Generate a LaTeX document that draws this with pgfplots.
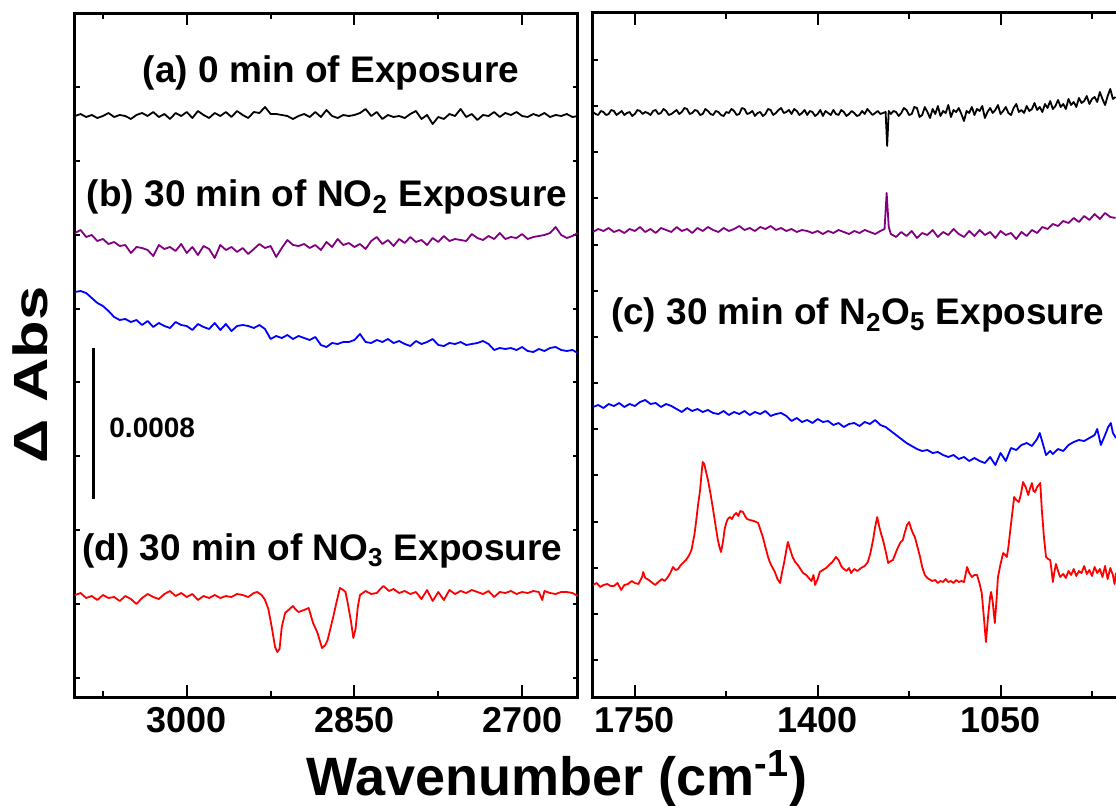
\documentclass[border=0pt]{standalone}
\usepackage{fontspec}
\setmainfont{Liberation Sans}
\usepackage{pgfplots}
\pgfplotsset{compat=1.18}
\definecolor{cpurple}{RGB}{128,0,128}
\definecolor{cblue}{RGB}{0,0,255}
\definecolor{cred}{RGB}{255,0,0}

\pgfplotsset{
  panel/.style={
    scale only axis, height=342pt, ymin=0, ymax=684,
    x dir=reverse,
    axis line style={line width=1.5pt},
    tick style={black, line width=1pt},
    major tick length=6pt, minor tick length=3pt,
    tick align=inside,
    ytick=\empty,
    extra y tick labels={},
    extra y tick style={major tick length=2.6pt},
    xticklabel style={font=\bfseries\fontsize{18}{18}\selectfont, yshift=-1.5pt},
  },
  spec/.style={line width=0.9pt, line join=round},
}

\begin{document}
\begin{tikzpicture}
% ---------- left panel: C-H stretch region ----------
\begin{axis}[panel, at={(0pt,0pt)}, anchor=south west, width=251.5pt,
  xmin=2650, xmax=3100,
  xtick={3000,2850,2700}, xticklabels={3000,2850,2700},
  minor xtick={3075,2925,2775},
  extra y ticks={19,92.9,166.8,240.7,314.6,388.5,462.4,536.3,610.2},
]
% (a) 0 min
\addplot[spec, black] coordinates {
(3100,581)(3095,583)(3090,580)(3085,582)(3080,579)(3075,581)(3070,584)(3065,580)
(3060,582)(3055,581)(3050,578)(3045,582)(3040,584)(3035,581)(3030,585)(3025,580)
(3020,583)(3015,578)(3010,584)(3005,581)(3000,585)(2995,579)(2990,586)(2985,582)
(2980,579)(2975,584)(2970,581)(2965,585)(2960,580)(2955,586)(2950,582)(2945,579)
(2940,585)(2935,584)(2930,590)(2925,583)(2920,583)(2915,582)(2910,581)(2905,578)
(2900,581)(2895,583)(2890,580)(2885,585)(2880,580)(2875,587)(2870,581)(2865,579)
(2860,582)(2855,581)(2850,582)(2845,584)(2840,588)(2835,581)(2830,585)(2825,578)
(2820,582)(2815,580)(2810,581)(2805,579)(2800,583)(2795,586)(2790,578)(2785,582)
(2780,573)(2775,580)(2770,578)(2765,583)(2760,581)(2755,588)(2750,580)(2745,583)
(2740,577)(2735,582)(2730,581)(2725,585)(2720,580)(2715,584)(2710,582)(2705,585)
(2700,581)(2695,580)(2690,583)(2685,581)(2680,584)(2675,580)(2670,582)(2665,581)
(2660,583)(2655,580)(2650,581)
};
% (b) NO2
\addplot[spec, cpurple] coordinates {
(3100,464)(3095,467)(3090,460)(3085,462)(3080,456)(3075,458)(3070,453)(3065,455)
(3060,451)(3055,452)(3050,444)(3045,450)(3040,449)(3035,447)(3030,441)(3025,452)
(3020,448)(3015,450)(3010,446)(3005,453)(3000,444)(2995,450)(2990,442)(2985,451)
(2980,448)(2975,439)(2970,452)(2965,447)(2960,450)(2955,445)(2950,449)(2945,443)
(2940,448)(2935,453)(2930,449)(2925,451)(2920,440)(2915,449)(2910,457)(2905,452)
(2900,451)(2895,453)(2890,449)(2885,452)(2880,447)(2875,455)(2870,450)(2865,458)
(2860,452)(2855,454)(2850,450)(2845,453)(2840,448)(2835,456)(2830,460)(2825,453)
(2820,457)(2815,451)(2810,458)(2805,454)(2800,460)(2795,455)(2790,457)(2785,452)
(2780,459)(2775,455)(2770,461)(2765,456)(2760,458)(2755,457)(2750,456)(2745,463)
(2740,459)(2735,457)(2730,461)(2725,458)(2720,464)(2715,458)(2710,460)(2705,459)
(2700,463)(2695,458)(2690,460)(2685,461)(2680,462)(2675,464)(2670,470)(2665,462)
(2660,459)(2655,461)(2650,464)
};
% (c) N2O5
\addplot[spec, cblue] coordinates {
(3100,405)(3095,406)(3090,404)(3085,399)(3080,394)(3075,391)(3070,386)(3065,380)
(3060,377)(3055,378)(3050,375)(3045,377)(3040,372)(3035,376)(3030,370)(3025,374)
(3020,371)(3015,369)(3010,375)(3005,372)(3000,371)(2995,367)(2990,373)(2985,370)
(2980,368)(2975,374)(2970,367)(2965,373)(2960,366)(2955,371)(2950,372)(2945,371)
(2940,369)(2935,372)(2930,368)(2925,358)(2920,361)(2915,359)(2910,362)(2905,358)
(2900,361)(2895,359)(2890,357)(2885,360)(2880,352)(2875,350)(2870,354)(2865,353)
(2860,355)(2855,355)(2850,357)(2845,363)(2840,355)(2835,354)(2830,357)(2825,355)
(2820,358)(2815,354)(2810,356)(2805,353)(2800,351)(2795,356)(2790,353)(2785,355)
(2780,358)(2775,352)(2770,351)(2765,354)(2760,353)(2755,355)(2750,352)(2745,353)
(2740,354)(2735,356)(2730,353)(2725,347)(2720,349)(2715,348)(2710,349)(2705,347)
(2700,350)(2695,346)(2690,345)(2685,348)(2680,346)(2675,349)(2670,350)(2665,347)
(2660,346)(2655,347)(2650,344)
};
% (d) NO3
\addplot[spec, cred] coordinates {
(3100,102)(3095,104)(3090,99)(3085,101)(3080,97)(3075,102)(3070,99)(3065,100)
(3060,96)(3055,101)(3050,98)(3045,93)(3040,99)(3035,103)(3030,100)(3025,98)
(3020,103)(3015,106)(3010,101)(3005,104)(3000,100)(2995,103)(2990,97)(2985,101)
(2980,99)(2975,102)(2970,99)(2965,101)(2960,100)(2955,103)(2950,102)(2945,100)
(2940,104)(2937,105)(2933,102)(2930,97)(2927,88)(2924,70)(2921,50)(2919,45)
(2917,48)(2915,70)(2912,84)(2908,88)(2905,91)(2903,88)(2900,85)(2895,87)
(2891,89)(2887,74)(2883,64)(2879,49)(2876,52)(2874,57)(2869,80)(2866,95)
(2863,109)(2860,107)(2858,105)(2856,94)(2853,75)(2851,59)(2849,68)(2847,90)
(2845,102)(2840,106)(2835,103)(2830,104)(2826,109)(2824,111)(2819,106)(2815,108)
(2810,104)(2805,106)(2800,103)(2795,105)(2790,98)(2785,107)(2780,96)(2775,105)
(2770,97)(2765,107)(2760,103)(2755,106)(2750,104)(2745,107)(2740,105)(2735,103)
(2730,106)(2725,100)(2720,105)(2715,104)(2710,106)(2705,103)(2700,105)(2695,104)
(2690,106)(2685,105)(2682,97)(2680,106)(2675,104)(2670,103)(2665,105)(2660,105)
(2655,104)(2650,101)
};
% scale bar
\draw[line width=1.5pt] (axis cs:3083,198) -- (axis cs:3083,349);
\end{axis}

% ---------- right panel: fingerprint region ----------
\begin{axis}[panel, at={(259pt,0pt)}, anchor=south west, width=269.1pt,
  xmin=800, xmax=1830,
  xtick={1750,1400,1050}, xticklabels={1750,1400,1050},
  minor xtick={1575,1225,875},
  extra y ticks={37,83.15,129.3,175.45,221.6,267.75,313.9,360.05,406.2,452.35,498.5,544.65,590.8,636.95},
]
% (a) 0 min
\addplot[spec, black] coordinates {
(1830,585)(1825,583)(1820,582)(1815,586)(1810,585)(1805,582)(1800,583)(1795,587)(1790,586)(1785,582)(1780,584)
(1775,586)(1770,582)(1765,584)(1760,585)(1755,581)(1750,583)(1745,587)(1740,586)(1735,583)(1730,585)
(1725,584)(1720,582)(1715,586)(1710,587)(1705,583)(1700,584)(1695,588)(1690,586)(1685,582)(1680,583)
(1675,585)(1670,587)(1665,583)(1660,585)(1655,589)(1650,588)(1645,583)(1640,584)(1635,587)(1630,586)
(1625,582)(1620,583)(1615,588)(1610,586)(1605,583)(1600,582)(1595,586)(1590,585)(1585,582)(1580,581)
(1575,585)(1570,584)(1565,588)(1560,586)(1555,582)(1550,583)(1545,589)(1540,588)(1535,583)(1530,584)
(1525,586)(1520,581)(1515,584)(1510,585)(1505,581)(1500,583)(1495,588)(1490,587)(1485,582)(1480,584)
(1475,587)(1470,589)(1465,584)(1460,585)(1455,587)(1450,583)(1445,588)(1440,586)(1435,582)(1430,584)
(1425,587)(1420,582)(1415,586)(1410,585)(1405,581)(1400,583)(1395,587)(1390,581)(1385,586)(1380,584)
(1375,582)(1370,587)(1365,583)(1360,582)(1355,587)(1350,585)(1345,581)(1340,583)(1335,586)(1330,584)
(1325,581)(1320,582)(1315,586)(1310,583)(1305,588)(1300,585)(1295,582)(1290,584)(1285,586)(1280,583)
(1275,584)(1270,585)(1267,551)(1264,586)(1260,583)(1255,586)(1250,585)(1245,581)(1240,584)(1235,589)
(1230,587)(1225,582)(1220,583)(1215,590)(1210,589)(1205,580)
(1200,582)(1195,590)(1190,585)(1185,579)(1180,588)(1175,583)(1170,591)(1165,581)(1160,586)(1155,584)
(1150,592)(1145,580)(1140,587)(1135,585)(1130,589)(1125,583)(1120,576)(1115,586)(1110,584)(1105,590)
(1100,582)(1095,588)(1090,586)(1085,591)(1080,579)(1075,585)(1070,589)(1065,584)(1060,587)(1055,592)
(1050,583)(1045,586)(1040,590)(1035,584)(1030,582)(1025,589)(1020,593)(1015,585)(1010,587)(1005,584)
(1000,591)(995,586)(990,588)(985,594)(980,587)(975,590)(970,585)(965,593)(960,589)(955,596)
(950,588)(945,591)(940,597)(935,590)(930,593)(925,588)(920,598)(915,592)(910,595)(905,590)
(900,599)(895,594)(890,596)(885,601)(880,593)(875,598)(870,600)(865,595)(860,605)(855,598)
(850,592)(845,601)(840,608)(835,598)(830,600)
};
% (b) NO2
\addplot[spec, cpurple] coordinates {
(1830,465)(1820,468)(1810,466)(1800,469)(1790,465)(1780,467)(1770,464)(1760,468)
(1750,466)(1740,470)(1730,465)(1720,468)(1710,464)(1700,469)(1690,467)(1680,465)
(1670,470)(1660,466)(1650,468)(1640,464)(1630,469)(1620,466)(1610,470)(1600,467)
(1590,465)(1580,469)(1570,466)(1560,468)(1550,471)(1540,467)(1530,469)(1520,466)
(1510,470)(1500,468)(1490,471)(1480,467)(1470,469)(1460,466)(1450,468)(1440,465)
(1430,467)(1420,466)(1410,464)(1400,466)(1390,463)(1380,466)(1370,464)(1360,467)
(1350,465)(1340,463)(1330,466)(1320,464)(1310,467)(1300,465)(1290,463)(1280,466)
(1272,468)(1268,504)(1264,470)(1260,463)(1250,460)(1240,465)(1230,461)(1220,466)
(1210,459)(1200,464)(1190,462)(1180,467)(1170,460)(1160,465)(1150,462)(1140,468)
(1130,463)(1120,460)(1110,466)(1100,461)(1090,467)(1080,462)(1070,465)(1060,459)
(1050,466)(1040,462)(1030,464)(1020,458)(1010,465)(1000,461)(990,467)(980,464)
(970,470)(960,468)(950,473)(940,471)(930,476)(920,474)(910,479)(900,475)
(890,481)(880,477)(870,483)(860,478)(850,484)(840,480)(830,479)
};
% (c) N2O5
\addplot[spec, cblue] coordinates {
(1830,290)(1820,292)(1810,289)(1800,293)(1790,291)(1780,294)(1770,290)(1760,293)
(1750,291)(1740,295)(1730,297)(1720,293)(1710,294)(1700,290)(1690,293)(1680,291)
(1670,288)(1660,285)(1650,289)(1640,286)(1630,288)(1620,285)(1610,287)(1600,284)
(1590,283)(1580,286)(1570,282)(1560,285)(1550,283)(1540,286)(1530,282)(1520,285)
(1510,283)(1500,286)(1490,281)(1480,283)(1470,284)(1460,281)(1450,276)(1440,279)
(1430,275)(1420,277)(1410,274)(1400,278)(1390,275)(1380,276)(1370,272)(1360,274)
(1350,270)(1340,273)(1330,274)(1320,271)(1310,275)(1300,273)(1290,277)(1280,272)
(1270,270)(1260,266)(1250,262)(1240,258)(1230,254)(1220,251)(1210,248)(1200,246)
(1190,247)(1180,244)(1170,245)(1160,242)(1150,240)(1140,242)(1130,238)(1120,240)
(1110,236)(1100,239)(1090,236)(1080,234)(1070,240)(1060,232)(1050,244)(1040,236)
(1030,249)(1020,247)(1010,252)(1000,254)(990,251)(980,258)(975,264)(970,255)
(963,242)(955,246)(950,243)(940,248)(930,246)(920,252)(910,255)(900,257)
(890,256)(880,259)(870,262)(865,268)(858,252)(850,262)(844,270)(839,274)
(835,264)(829,259)
};
% (d) NO3
\addplot[spec, cred] coordinates {
(1830,112)(1823,114)(1816,110)(1810,112)(1803,113)(1796,111)(1790,111)(1783,114)
(1776,107)(1770,112)(1763,113)(1756,116)(1750,114)(1743,113)(1736,120)(1734,125)
(1730,119)(1723,117)(1716,114)(1711,112)(1705,115)(1698,118)(1693,116)(1688,119)
(1682,124)(1677,130)(1672,127)(1667,128)(1662,132)(1658,134)(1652,137)(1648,140)
(1644,144)(1641,148)(1639,154)(1636,162)(1633,174)(1629,192)(1625,207)(1622,225)
(1620,235)(1617,233)(1614,226)(1610,217)(1605,203)(1600,187)(1595,170)(1591,157)
(1588,150)(1585,145)(1581,156)(1578,168)(1575,174)(1572,178)(1568,180)(1564,178)
(1560,182)(1556,184)(1552,181)(1548,186)(1543,185)(1538,180)(1535,178)(1530,177)
(1522,176)(1514,174)(1510,168)(1505,160)(1500,150)(1495,140)(1491,134)(1487,130)
(1482,125)(1477,118)(1472,114)(1468,125)(1464,135)(1460,147)(1457,155)(1453,148)
(1448,140)(1443,135)(1438,132)(1433,128)(1428,124)(1422,122)(1417,119)(1412,116)
(1408,122)(1405,112)(1400,118)(1396,125)(1390,127)(1384,129)(1378,132)(1372,135)
(1365,140)(1360,137)(1355,131)(1352,129)(1345,126)(1340,129)(1336,124)(1330,128)
(1324,126)(1317,129)(1310,131)(1304,135)(1299,144)(1294,157)(1290,170)(1286,180)
(1282,170)(1278,162)(1275,157)(1270,146)(1265,134)(1260,136)(1256,137)(1250,145)
(1246,150)(1241,155)(1237,157)(1233,165)(1229,172)(1225,175)(1221,168)(1217,163)
(1214,160)(1209,150)(1204,140)(1200,130)(1195,122)(1190,119)(1181,116)(1175,117)
(1170,114)(1165,116)(1160,115)(1155,118)(1150,115)(1145,116)(1140,114)(1135,117)
(1130,115)(1125,116)(1120,115)(1114,130)(1110,124)(1105,120)(1100,122)(1095,122)
(1090,113)(1086,104)(1082,80)(1078,55)(1074,80)(1070,100)(1068,105)(1065,95)
(1061,74)(1058,95)(1055,120)(1050,133)(1045,144)(1041,142)(1038,140)(1035,150)
(1032,164)(1028,182)(1024,200)(1020,197)(1015,195)(1011,203)(1007,215)(1002,210)
(997,202)(994,208)(990,214)(987,206)(984,205)(980,210)(974,214)(971,187)
(967,160)(963,140)(959,138)(955,137)(952,125)(950,115)(947,125)(944,133)
(940,126)(936,120)(930,123)(925,119)(920,126)(915,122)(910,128)(905,121)
(900,126)(895,124)(890,131)(885,123)(880,127)(875,121)(870,130)(865,124)
(860,128)(855,120)(850,131)(845,118)(840,129)(835,122)(832,113)(829,124)
};
\end{axis}

% ---------- annotations ----------
\begin{scope}[every node/.style={font=\bfseries\fontsize{18.5}{18.5}\selectfont, inner sep=0pt}]
\node[anchor=base] at (128pt,307pt) {(a) 0 min of Exposure};
\node[anchor=base] at (126pt,245pt) {(b) 30 min of NO\textsubscript{2} Exposure};
\node[anchor=base] at (391.4pt,186pt) {(c) 30 min of N\textsubscript{2}O\textsubscript{5} Exposure};
\node[anchor=base] at (123.75pt,68.5pt) {(d) 30 min of NO\textsubscript{3} Exposure};
\end{scope}
\node[anchor=base west, inner sep=0pt, font=\bfseries\fontsize{14}{14}\selectfont] at (17pt,130pt) {0.0008};
\node[anchor=base, inner sep=0pt, font=\bfseries\fontsize{27}{27}\selectfont] at (241pt,-49pt) {Wavenumber (cm\textsuperscript{-1})};
\node[anchor=base, inner sep=0pt, rotate=90, font=\bfseries\fontsize{24}{24}\selectfont] at (-13.5pt,161pt) {\scalebox{1.28}[1]{Δ Abs}};

\pgfresetboundingbox
\path[use as bounding box] (-37.5pt,-54pt) rectangle (520.5pt,348.5pt);
\end{tikzpicture}
\end{document}
